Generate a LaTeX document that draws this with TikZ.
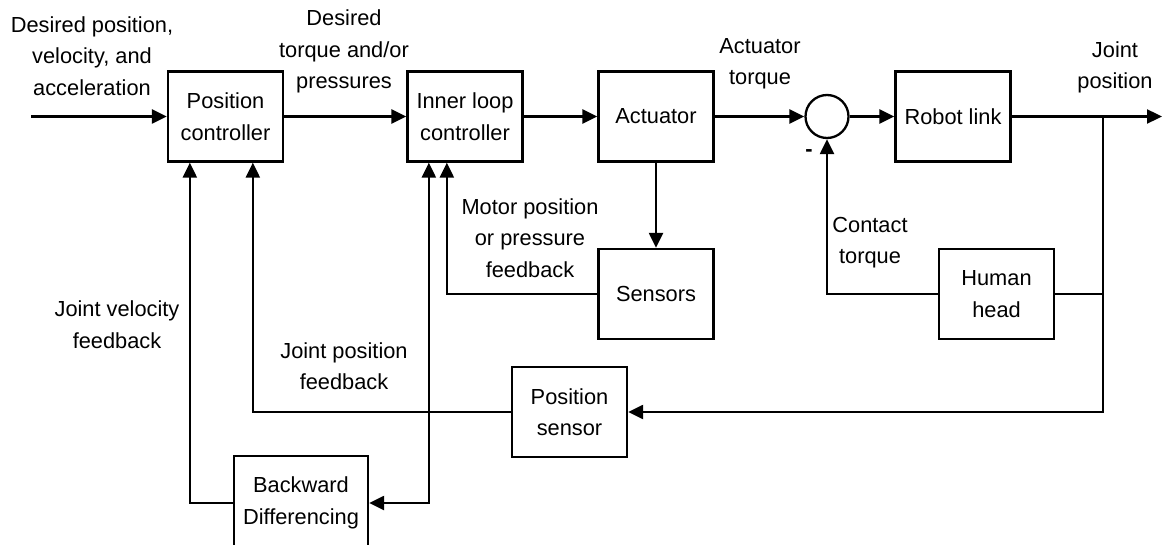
\documentclass[tikz,border=0pt]{standalone}
\usepackage{fontspec}
\setmainfont{Liberation Sans}
\usetikzlibrary{arrows.meta,calc}
\tikzset{
  blk/.style={draw, line width=2.3pt, minimum width=115pt, minimum height=90pt, inner sep=0pt, align=center, font=\fontsize{21.8}{31.5}\selectfont},
  lbl/.style={inner sep=0pt, align=center, font=\fontsize{21.8}{31.5}\selectfont},
  sumc/.style={draw, circle, line width=2.3pt, minimum size=43pt, inner sep=0pt},
  wire/.style={line width=2.3pt},
  arr/.style={line width=2.3pt, -{Triangle[length=15pt,width=14pt]}},
}
\begin{document}
\begin{tikzpicture}[x=1pt,y=-1pt]
\useasboundingbox (0,0) rectangle (1167,545);
% blocks
\node[blk] (pc) at (225.5,116.5) {Position\\controller};
\node[blk] (il) at (465,116.5) {Inner loop\\controller};
\node[blk] (act) at (656,116.5) {Actuator};
\node[sumc] (sum) at (827,116.5) {};
\node[blk] (rl) at (953,116.5) {Robot link};
\node[blk] (sens) at (656,294) {Sensors};
\node[blk] (hh) at (996.5,294) {Human\\head};
\node[blk] (ps) at (569.5,412) {Position\\sensor};
\node[blk, minimum width=134pt, minimum height=94pt] (bd) at (301,503) {Backward\\Differencing};
% labels
\node[lbl] (l1) at (92,56) {Desired position,\\velocity, and\\acceleration};
\node[lbl] (l2) at (344,51.5) {Desired\\torque and/or\\pressures};
\node[lbl] (l3) at (760,64) {Actuator\\torque};
\node[lbl] (l4) at (1115,67.5) {Joint\\position};
\node[lbl] (l5) at (530,238) {Motor position\\or pressure\\feedback};
\node[lbl] (l6) at (870,242.5) {Contact\\torque};
\node[lbl] (l7) at (117,324.5) {Joint velocity\\feedback};
\node[lbl] (l8) at (344,366) {Joint position\\feedback};
\node[lbl] (minus) at (809,153) {\textbf{-}};
% coordinates
\coordinate (in) at (31,116.5);
\coordinate (out) at (1162,116.5);
\coordinate (j1) at (1103,116.5);
\coordinate (pcA) at ([xshift=23pt]pc.south west);
\coordinate (pcB) at ([xshift=86pt]pc.south west);
\coordinate (ilA) at ([xshift=22.5pt]il.south west);
\coordinate (ilB) at ([xshift=40.5pt]il.south west);
\coordinate (j2) at (ilA |- ps.west);
% connectors
\draw[arr] (in) -- (pc.west);
\draw[arr] (pc.east) -- (il.west);
\draw[arr] (il.east) -- (act.west);
\draw[arr] (act.east) -- (sum.west);
\draw[arr] (sum.east) -- (rl.west);
\draw[arr] (rl.east) -- (out);
\draw[arr] (j1) |- (ps.east);
\draw[wire] (hh.east) -- (hh.east -| j1);
\draw[arr] (hh.west) -| (sum.south);
\draw[arr] (act.south) -- (sens.north);
\draw[arr] (sens.west) -| (ilB);
\draw[arr] (ps.west) -| (pcB);
\draw[arr] (j2) -- (ilA);
\draw[arr] (j2) |- (bd.east);
\draw[arr] (bd.west) -| (pcA);
\end{tikzpicture}
\end{document}
